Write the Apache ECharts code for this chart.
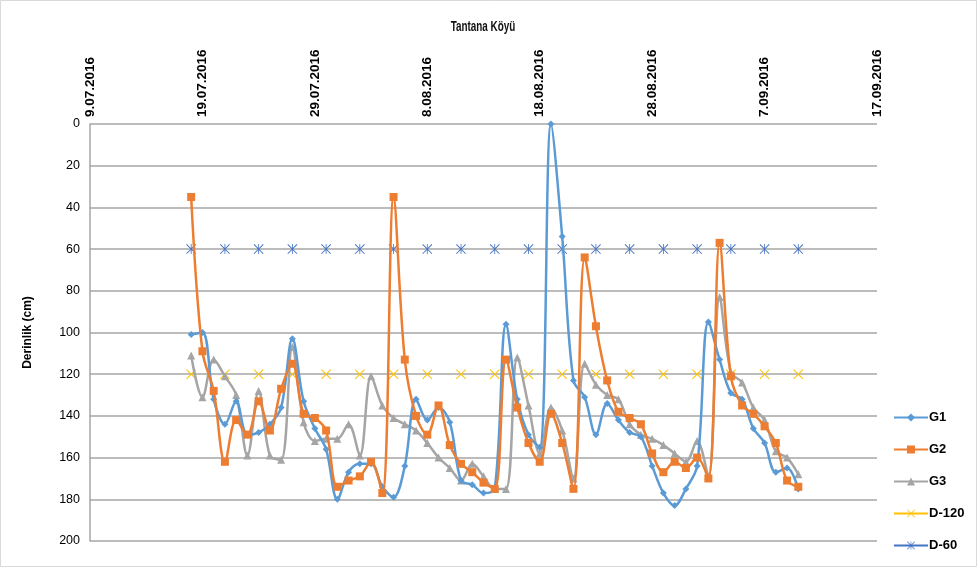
<!DOCTYPE html>
<html>
<head>
<meta charset="utf-8">
<script src="https://cdn.jsdelivr.net/npm/echarts@6/dist/echarts.min.js"></script>
<style>
  html, body { margin: 0; padding: 0; background: #fff; }
  #chart { width: 978px; height: 568px; }
</style>
</head>
<body>
<div id="chart"></div>
<script>
// x axis: days counted from 9.07.2016
const startDate = new Date(2016, 6, 9)
const axisTicks = [0, 10, 20, 30, 40, 50, 60, 70]
// first measurement on 18.07.2016 (day 9), one reading per day
const firstDay = 9

const g1 = [101, 100, 132, 144, 133, 149, 148, 144, 136, 103, 133, 146, 156, 180, 167, 163, 163,
  174, 179, 164, 132, 142, 136, 143, 171, 173, 177, 175, 96, 132, 149, 155, 0, 54, 123, 131, 149,
  134, 142, 148, 150, 164, 177, 183, 175, 164, 95, 113, 129, 132, 146, 153, 167, 165, 175]
const g2 = [35, 109, 128, 162, 142, 149, 133, 147, 127, 115, 139, 141, 147, 174, 171, 169, 162,
  177, 35, 113, 140, 149, 135, 154, 163, 167, 172, 175, 113, 136, 153, 162, 139, 153, 175, 64, 97,
  123, 138, 141, 144, 158, 167, 162, 165, 160, 170, 57, 121, 135, 139, 145, 153, 171, 174]
const g3 = [111, 131, 113, 121, 130, 159, 128, 159, 161, 107, 143, 152, 151, 151, 144, 159, 121,
  135, 141, 144, 147, 153, 160, 165, 171, 163, 169, 175, 175, 112, 135, 158, 136, 147, 170, 115, 125,
  130, 132, 144, 149, 151, 154, 158, 162, 152, 169, 83, 119, 124, 136, 142, 157, 160, 168]
// reference depths, marked every 3 days from 18.07.2016 to 10.09.2016
const refDays = [9, 12, 15, 18, 21, 24, 27, 30, 33, 36, 39, 42, 45, 48, 51, 54, 57, 60, 63]
const d120 = 120
const d60 = 60

function dayLabel(day) {
  const d = new Date(startDate.getTime())
  d.setDate(d.getDate() + day)
  const mm = ('0' + (d.getMonth() + 1)).slice(-2)
  return d.getDate() + '.' + mm + '.' + d.getFullYear()
}

function toPoints(values) {
  return values.map((v, i) => [firstDay + i, v])
}

const xMark = 'path://M0,0.7L0.7,0L5,4.3L9.3,0L10,0.7L5.7,5L10,9.3L9.3,10L5,5.7L0.7,10L0,9.3L4.3,5Z'
const starMark = 'path://M0,0.7L0.7,0L10,9.3L9.3,10ZM9.3,0L10,0.7L0.7,10L0,9.3ZM4.6,0L5.4,0L5.4,10L4.6,10Z'

const chart = echarts.init(document.getElementById('chart'))

chart.setOption({
  animation: false,
  textStyle: { fontFamily: 'Liberation Sans, Arial, sans-serif' },
  graphic: [{
    type: 'rect',
    shape: { x: 0.5, y: 0.5, width: 976, height: 566 },
    style: { fill: 'none', stroke: '#d9d9d9', lineWidth: 1 },
    silent: true
  }, {
    type: 'text',
    x: 483,
    y: 27,
    scaleX: 0.66,
    style: {
      text: 'Tantana Köyü',
      fontSize: 15,
      fontWeight: 'bold',
      fontFamily: 'Liberation Sans, Arial, sans-serif',
      fill: '#111',
      align: 'center',
      verticalAlign: 'middle'
    },
    silent: true
  }],
  legend: {
    orient: 'vertical',
    left: 893,
    top: 411,
    padding: 0,
    itemWidth: 34,
    itemHeight: 10,
    itemGap: 19,
    textStyle: { fontSize: 13, fontWeight: 'bold', color: '#000', padding: [0, 0, 0, -4] },
    data: [
      { name: 'G1' },
      { name: 'G2' },
      { name: 'G3' },
      { name: 'D-120', lineStyle: { width: 2, color: '#FFC000', opacity: 1 } },
      { name: 'D-60', lineStyle: { width: 2, color: '#4472C4', opacity: 1 } }
    ]
  },
  grid: { left: 90, right: 101, top: 124, bottom: 27 },
  xAxis: {
    type: 'value',
    position: 'top',
    min: 0,
    max: 70,
    interval: 10,
    axisLine: { show: false },
    axisTick: { show: false },
    splitLine: { show: false },
    axisLabel: {
      rotate: 90,
      margin: 7,
      fontSize: 13.5,
      fontWeight: 'bold',
      color: '#000',
      formatter: v => axisTicks.includes(v) ? dayLabel(v) : ''
    }
  },
  yAxis: {
    type: 'value',
    inverse: true,
    min: 0,
    max: 200,
    interval: 20,
    name: 'Derinlik (cm)',
    nameLocation: 'middle',
    nameGap: 56,
    nameTextStyle: { fontSize: 12, fontWeight: 'bold', color: '#000' },
    axisLine: { show: true, lineStyle: { color: '#a6a6a6', width: 1.5 } },
    axisTick: { show: false },
    axisLabel: { fontSize: 12.5, color: '#000', margin: 10 },
    splitLine: { lineStyle: { color: '#a6a6a6', width: 1.5 } }
  },
  series: [
    {
      name: 'G1',
      type: 'line',
      smooth: 0.35,
      data: toPoints(g1),
      symbol: 'diamond',
      symbolSize: 7,
      itemStyle: { color: '#5B9BD5' },
      lineStyle: { width: 2.5, color: '#5B9BD5' },
      z: 3
    },
    {
      name: 'G2',
      type: 'line',
      smooth: 0.35,
      data: toPoints(g2),
      symbol: 'rect',
      symbolSize: 8,
      itemStyle: { color: '#ED7D31' },
      lineStyle: { width: 2.5, color: '#ED7D31' },
      z: 4
    },
    {
      name: 'G3',
      type: 'line',
      smooth: 0.35,
      data: toPoints(g3),
      symbol: 'triangle',
      symbolSize: 8,
      itemStyle: { color: '#A5A5A5' },
      lineStyle: { width: 2.5, color: '#A5A5A5' },
      z: 2
    },
    {
      name: 'D-120',
      type: 'line',
      data: refDays.map(d => [d, d120]),
      symbol: xMark,
      symbolSize: 10,
      itemStyle: { color: '#FFC000' },
      lineStyle: { width: 0, opacity: 0 },
      z: 1
    },
    {
      name: 'D-60',
      type: 'line',
      data: refDays.map(d => [d, d60]),
      symbol: starMark,
      symbolSize: 10,
      itemStyle: { color: '#4472C4' },
      lineStyle: { width: 0, opacity: 0 },
      z: 1
    }
  ]
})
</script>
</body>
</html>
